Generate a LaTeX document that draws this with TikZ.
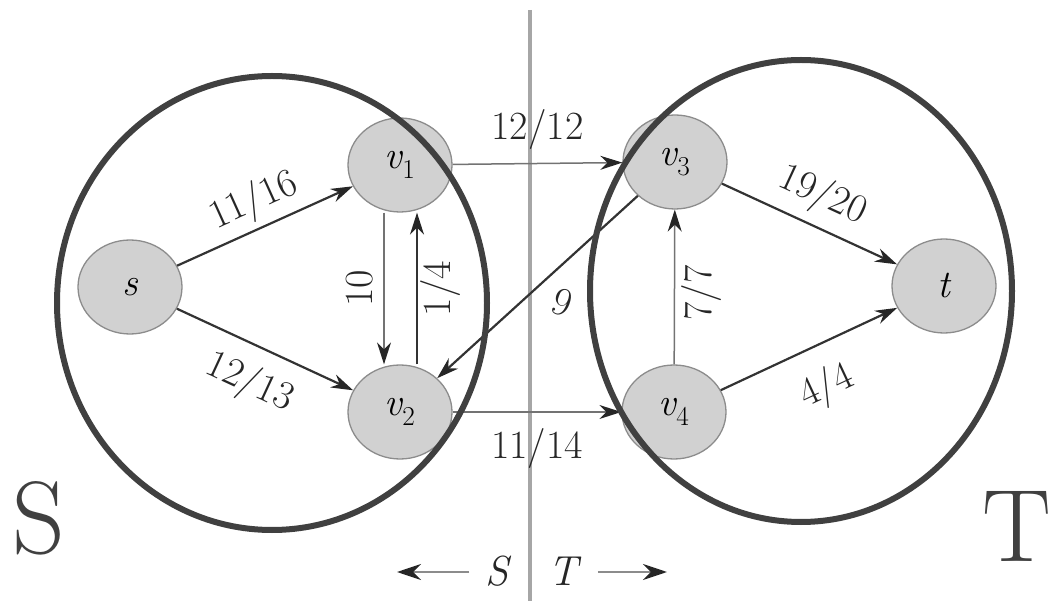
\documentclass[tikz,border=0pt]{standalone}
\usepackage{fontspec}
\usetikzlibrary{shapes.geometric,arrows.meta}
\tikzset{
  vertex/.style={ellipse, draw=black!45, line width=1.3pt, fill=black!18, minimum width=104pt, minimum height=94pt, inner sep=0pt, font=\fontsize{39}{41}\selectfont\itshape},
  thickarrow/.style={-{Stealth[length=22pt,width=14pt,color=black!85]}, line width=2.2pt, draw=black!80},
  thinarrow/.style={-{Stealth[length=22pt,width=14pt,color=black!85]}, line width=1.5pt, draw=black!55},
  sidearrow/.style={-{Stealth[length=24pt,width=16pt,color=black!85]}, line width=2.8pt, draw=black!45},
  cutset/.style={line width=6pt, draw=black!75},
  flowlabel/.style={font=\fontsize{40}{42}\selectfont, inner sep=2pt, text=black!85},
  sidelabel/.style={font=\fontsize{103}{103}\selectfont, text=black!75, inner sep=0pt},
}
\begin{document}
\begin{tikzpicture}[x=1pt, y=-1pt]
  \useasboundingbox (0,0) rectangle (1050,601);

  % the cut
  \draw[line width=4pt, draw=black!35] (530,10) -- (530,601);

  % vertices
  \node[vertex] (s)  at (130,287) {s};
  \node[vertex] (v1) at (400,165) {v\textsubscript{\upshape 1}};
  \node[vertex] (v2) at (400,412) {v\textsubscript{\upshape 2}};
  \node[vertex] (v3) at (675,162) {v\textsubscript{\upshape 3}};
  \node[vertex] (v4) at (674,412) {v\textsubscript{\upshape 4}};
  \node[vertex] (t)  at (944,286) {t};

  % flows / capacities
  \draw[thickarrow] (s) -- (v1) node[flowlabel, midway, sloped, above=4pt] {11/16};
  \draw[thickarrow] (s) -- (v2) node[flowlabel, midway, sloped, below=14pt] {12/13};
  \draw[thinarrow] ([xshift=-16pt]v1.south) -- ([xshift=-16pt]v2.north)
    node[flowlabel, midway, xshift=-24pt, rotate=90] {10};
  \draw[thickarrow] ([xshift=17pt]v2.north) -- ([xshift=17pt]v1.south)
    node[flowlabel, midway, xshift=23pt, rotate=90] {1/4};
  \draw[thinarrow] (v1) -- (v3) node[flowlabel, midway, above=11pt] {12/12};
  \draw[thinarrow] (v2) -- (v4) node[flowlabel, midway, below=14pt] {11/14};
  \draw[thickarrow] (v3) -- (v2) node[flowlabel, pos=0.47, xshift=19pt, yshift=-21pt, rotate=-20] {9};
  \draw[thinarrow] (v4) -- (v3) node[flowlabel, midway, xshift=27pt, yshift=-6pt, rotate=90] {7/7};
  \draw[thickarrow] (v3) -- (t) node[flowlabel, midway, sloped, above=8pt] {19/20};
  \draw[thickarrow] (v4) -- (t) node[flowlabel, midway, sloped, below=19pt] {4/4};

  % the two sides
  \draw[cutset] (272,303) ellipse [x radius=215, y radius=227];
  \draw[cutset] (801,291) ellipse [x radius=211, y radius=231];
  \node[sidelabel] (bigS) at (39,518) {S};
  \node[sidelabel] (bigT) at (1017,526) {T};

  % legend under the cut
  \node[flowlabel, font=\fontsize{42}{44}\selectfont\itshape] (legS) at (497,571) {S};
  \node[flowlabel, font=\fontsize{42}{44}\selectfont\itshape] (legT) at (563,571) {T};
  \coordinate (legSend) at (397,572);
  \coordinate (legTend) at (667,572);
  \draw[sidearrow] ([xshift=-14pt,yshift=-1pt]legS.west) -- (legSend);
  \draw[sidearrow] ([xshift=18pt,yshift=-1pt]legT.east) -- (legTend);
\end{tikzpicture}
\end{document}
